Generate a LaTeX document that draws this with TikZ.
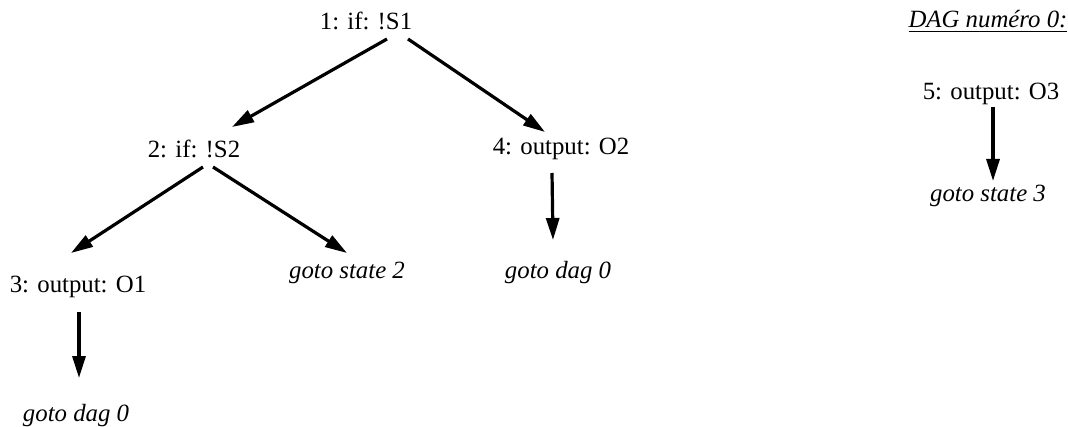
\documentclass[tikz,border=0pt]{standalone}
\usepackage{fontspec}
\setmainfont{Liberation Serif}
\usepackage{tikz}
\usetikzlibrary{positioning, arrows.meta, calc}

\tikzset{
    lbl/.style={anchor=base, inner sep=0, font=\fontsize{12.4}{14}\selectfont},
    jump/.style={lbl, font=\fontsize{12.4}{14}\selectfont\itshape},
    arr/.style={line width=1.6pt, -{Triangle[length=11pt,width=6.5pt]}}
}

\begin{document}
\begin{tikzpicture}[x=0.5pt, y=-0.5pt]
    \useasboundingbox (0,0) rectangle (1068,427);

    % first dag
    \node[lbl]  (if1)  at (366,30)  {1: if: !S1};
    \node[lbl]  (if2)  at (194,157) {2: if: !S2};
    \node[lbl]  (out2) at (561,155) {4: output: O2};
    \node[lbl]  (out1) at (78,292)  {3: output: O1};
    \node[jump] (st2)  at (347,278) {goto state 2};
    \node[jump] (dagA) at (558,278) {goto dag 0};
    \node[jump] (dagB) at (76,421)  {goto dag 0};

    % dag numero 0
    \node[jump] (title) at (988,28) {\underline{DAG numéro 0:}};
    \node[lbl]  (out3)  at (991,100) {5: output: O3};
    \node[jump] (st3)   at (988,201) {goto state 3};

    % edges
    \foreach \from/\to/\ax/\ay/\bx/\by in {
        if1/if2/21/9/38/-30,
        if1/out2/42/9/-16/-23,
        if2/out1/9/10/-7/-39,
        if2/st2/19/10/0/-25,
        out2/dagA/-9/18/-5/-38,
        out1/dagB/1/20/3/-43,
        out3/st3/2/7/5/-20}
    {
        \draw[arr] ($(\from.base)+(\ax,\ay)$) -- ($(\to.base)+(\bx,\by)$);
    }
\end{tikzpicture}
\end{document}
